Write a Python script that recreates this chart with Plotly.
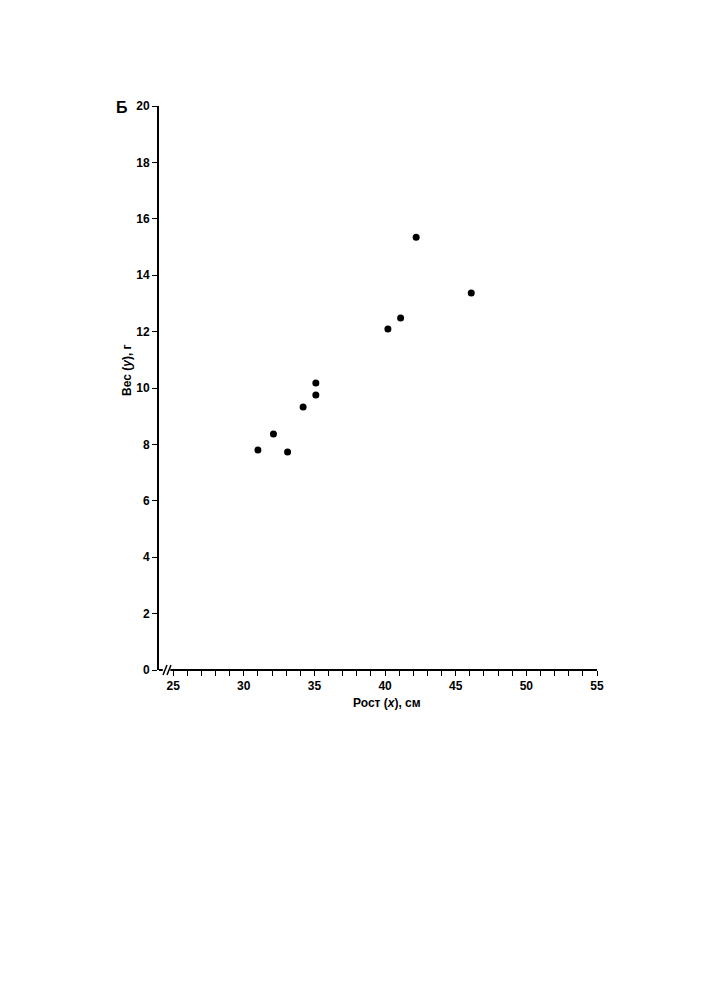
import plotly.graph_objects as go

height_cm = [31.0, 32.1, 33.1, 34.2, 35.1, 35.1, 40.2, 41.1, 42.2, 46.1]
weight_g = [7.80, 8.37, 7.73, 9.33, 9.75, 10.18, 12.09, 12.48, 15.35, 13.37]

x_major_ticks = [25, 30, 35, 40, 45, 50, 55]
x_minor_ticks = [v for v in range(26, 55) if v % 5 != 0]
y_ticks = [0, 2, 4, 6, 8, 10, 12, 14, 16, 18, 20]

panel_label = "Б"
x_title = "Рост (<i>x</i>), см"
y_title = "Вес (<i>y</i>), г"

FONT = "Liberation Sans, Arial, sans-serif"

fig = go.Figure()
fig.add_trace(go.Scatter(
    x=height_cm, y=weight_g, mode="markers",
    marker=dict(color="black", size=7),
    showlegend=False, hoverinfo="skip",
))

fig.update_layout(
    width=705, height=1000,
    margin=dict(l=151, r=116, t=98, b=338, pad=0),
    paper_bgcolor="white", plot_bgcolor="white",
    font=dict(family=FONT, color="black"),
    xaxis=dict(
        range=[24, 55], showgrid=False, zeroline=False, showline=False,
        tickmode="array", tickvals=x_major_ticks,
        ticktext=[str(v) for v in x_major_ticks],
        ticks="outside", ticklen=5, tickwidth=1.3, tickcolor="black",
        tickfont=dict(family=FONT, size=12, weight="bold", color="black"),
        minor=dict(tickmode="array", tickvals=x_minor_ticks, ticks="outside",
                   ticklen=5, tickwidth=1.3, tickcolor="black", showgrid=False),
    ),
    yaxis=dict(
        range=[0, 20], showgrid=False, zeroline=False,
        showline=True, linecolor="black", linewidth=2,
        tickmode="array", tickvals=y_ticks,
        ticks="outside", ticklen=5, tickwidth=1.3, tickcolor="black",
        tickfont=dict(family=FONT, size=12, weight="bold", color="black"),
    ),
    shapes=[
        dict(type="line", xref="x", yref="paper", x0=24.8, x1=55, y0=0, y1=0,
             line=dict(color="black", width=2)),
        dict(type="line", xref="x", yref="paper", x0=24, x1=24.27, y0=0, y1=0,
             line=dict(color="black", width=2)),
        dict(type="line", xref="x", yref="paper", xsizemode="pixel", ysizemode="pixel",
             xanchor=24, yanchor=0, x0=4, x1=8, y0=-5, y1=5,
             line=dict(color="black", width=1.5)),
        dict(type="line", xref="x", yref="paper", xsizemode="pixel", ysizemode="pixel",
             xanchor=24, yanchor=0, x0=8, x1=12, y0=-5, y1=5,
             line=dict(color="black", width=1.5)),
    ],
    annotations=[
        dict(text=x_title, xref="paper", yref="paper", x=0.5205, y=-0.0585,
             showarrow=False, font=dict(family=FONT, size=12, weight="bold"),
             xanchor="center", yanchor="middle"),
        dict(text=y_title, xref="paper", yref="paper", x=-0.073, y=0.532,
             showarrow=False, textangle=-90,
             font=dict(family=FONT, size=12, weight="bold"),
             xanchor="center", yanchor="middle"),
        dict(text=panel_label, xref="paper", yref="paper", x=-0.0845, y=0.9965,
             showarrow=False, font=dict(family=FONT, size=16, weight="bold"),
             xanchor="center", yanchor="middle"),
    ],
)

fig.write_html("out.html")
